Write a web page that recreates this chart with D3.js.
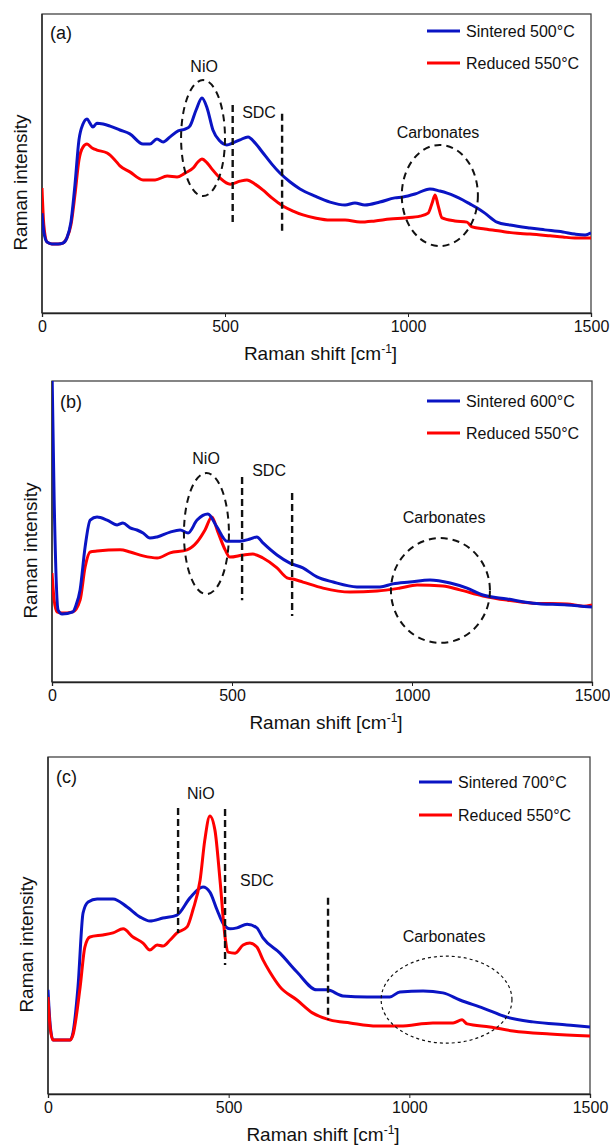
<!DOCTYPE html>
<html>
<head>
<meta charset="utf-8">
<script src="https://cdn.jsdelivr.net/npm/d3@7"></script>
<style>
  body { margin: 0; background: #fff; }
  svg { display: block; font-family: "Liberation Sans", Arial, sans-serif; }
</style>
</head>
<body>
<svg id="chart" width="610" height="1148"></svg>
<script>
// Raman shift (cm-1) vs intensity (a.u., 0-100 of the plotted window)

const sinteredA = [[0,33.4],[5,27.1],[14,23.7],[27,23.1],[44,23.1],[57,23.4],[68,25.1],[79,30.4],[90,42.8],[101,57.9],[112,63.2],[123,64.9],[131,63.5],[139,62.2],[150,63.5],[167,63.2],[186,62.5],[213,61.2],[240,59.9],[276,56.5],[295,56.5],[314,58.2],[331,57.2],[350,58.9],[372,60.9],[391,61.5],[404,62.5],[421,67.9],[437,71.9],[451,68.6],[467,61.2],[486,57.5],[505,56.2],[522,56.9],[541,57.9],[563,58.9],[582,56.9],[604,53.5],[628,49.8],[650,46.8],[678,43.8],[705,41.5],[746,39.1],[787,37.1],[828,36.1],[855,36.8],[882,36.1],[923,37.1],[964,38.5],[986,38.8],[1019,39.8],[1060,41.5],[1087,40.8],[1107,40.1],[1128,39.1],[1150,37.8],[1169,36.5],[1189,35.1],[1210,33.4],[1243,30.4],[1279,29.4],[1333,28.4],[1374,27.8],[1423,27.1],[1456,26.4],[1484,26.1],[1500,26.8]];
const reducedA = [[0,41.8],[5,29.4],[14,23.7],[27,23.1],[44,23.1],[57,23.4],[68,25.1],[79,29.4],[90,39.5],[101,51.2],[112,55.5],[123,56.5],[137,55.2],[150,54.5],[178,53.5],[199,51.2],[213,49.2],[240,47.2],[276,44.5],[309,44.5],[342,45.8],[369,45.5],[391,46.8],[413,48.5],[426,50.5],[437,51.5],[451,50.2],[464,48.2],[486,45.2],[514,43.1],[541,44.1],[560,44.5],[582,43.1],[604,41.1],[628,38.5],[658,35.8],[686,34.1],[713,32.8],[746,31.8],[787,31.1],[828,31.1],[869,30.4],[910,30.8],[951,31.4],[992,31.8],[1033,32.4],[1055,33.4],[1066,36.8],[1074,39.5],[1082,36.1],[1093,31.8],[1128,30.8],[1161,30.4],[1175,28.8],[1210,28.1],[1251,27.4],[1287,26.8],[1333,26.4],[1388,25.8],[1423,25.4],[1456,25.1],[1500,25.1]];

const sinteredB = [[0,104],[6,60.5],[17,23.9],[28,22.6],[58,23.3],[67,25.6],[78,30.6],[92,44.9],[106,53.8],[125,54.8],[153,53.8],[181,52.2],[197,52.8],[217,51.2],[236,50.5],[253,49.5],[272,47.8],[292,48.2],[328,49.8],[356,50.5],[378,49.5],[403,53.8],[433,55.8],[458,51.5],[486,46.8],[522,46.8],[550,47.5],[569,48.2],[586,46.2],[625,42.2],[661,39.5],[697,37.9],[736,34.9],[781,33.2],[847,31.6],[911,31.6],[947,32.6],[994,33.2],[1050,33.9],[1106,32.9],[1153,31.2],[1197,28.9],[1264,27.6],[1336,26.2],[1431,25.6],[1500,24.9]];
const reducedB = [[0,36.2],[6,27.2],[14,23.3],[28,22.9],[58,23.3],[78,27.2],[92,38.2],[106,43.2],[125,43.5],[189,43.9],[217,43.2],[253,41.9],[292,41.2],[328,42.9],[375,43.9],[403,46.5],[425,50.5],[444,54.8],[461,49.8],[481,43.9],[494,41.5],[531,42.2],[558,42.5],[586,41.2],[625,37.9],[653,34.6],[669,34.2],[697,33.2],[753,31.2],[828,29.9],[903,30.2],[967,31.2],[1014,32.2],[1086,31.9],[1133,30.6],[1197,28.6],[1264,27.2],[1336,26.2],[1431,25.9],[1475,25.2],[1500,25.6]];

const sinteredC = [[0,30.9],[6,20.5],[14,16.0],[61,16.0],[69,18.1],[83,31.8],[97,53.7],[111,57.0],[136,57.9],[180,57.9],[219,55.5],[255,52.5],[282,51.3],[318,52.2],[357,53.1],[393,58.2],[429,61.4],[448,59.9],[468,54.6],[484,50.7],[504,49.0],[523,49.3],[551,50.4],[578,49.3],[595,46.3],[642,41.8],[689,36.2],[744,30.9],[772,30.9],[816,29.1],[883,28.8],[946,28.8],[974,30.3],[1038,30.6],[1093,30.0],[1140,27.9],[1204,25.5],[1270,22.8],[1342,21.4],[1436,20.5],[1500,19.9]];
const reducedC = [[0,28.8],[6,19.6],[14,16.0],[61,16.0],[69,17.5],[89,31.8],[102,43.6],[116,46.6],[152,47.2],[180,47.8],[208,49.0],[235,46.6],[263,44.8],[282,42.7],[302,44.2],[318,43.9],[338,45.7],[357,47.8],[385,49.6],[401,54.6],[421,63.5],[434,75.4],[448,82.5],[462,78.3],[476,63.5],[490,46.6],[498,42.1],[518,41.8],[540,44.2],[559,44.8],[578,43.6],[595,39.8],[614,36.2],[642,31.8],[689,27.9],[733,24.0],[780,22.0],[836,21.1],[910,20.2],[974,20.2],[1065,21.1],[1121,21.1],[1146,22.0],[1160,20.8],[1223,19.9],[1287,18.7],[1389,17.8],[1500,17.2]];

const xTicks = [0, 500, 1000, 1500];
const seriesNamesA = ['Sintered 500°C', 'Reduced 550°C'];
const seriesNamesB = ['Sintered 600°C', 'Reduced 550°C'];
const seriesNamesC = ['Sintered 700°C', 'Reduced 550°C'];

// band markers: [shift, intensity from, intensity to]
const sdcLinesA = [[521,69.6,30.1],[656,66.6,26.8]];
const sdcLinesB = [[528,68.1,27.2],[667,62.8,21.9]];
const sdcLinesC = [[360,84.9,47.8],[490,84.6,38.3],[775,58.2,22.0]];
// ellipses: [centre shift, centre intensity, half width (cm-1), half height]
const ellipsesA = [[440,58.5,60,19.4],[1087,39.3,104,16.9]];
const ellipsesB = [[429,49.3,62.5,20.1],[1079,30.4,137.5,17.4]];
const ellipsesC = [[1103,28.0,181,12.9]];
// labels: [text, shift, intensity]
const labelsA = [['NiO',443,82.3],['SDC',593,66.9],['Carbonates',1082,60.5]];
const labelsB = [['NiO',428,74.1],['SDC',603,70.1],['Carbonates',1089,54.8]];
const labelsC = [['NiO',423,89.3],['SDC',578,63.5],['Carbonates',1096,46.6]];

const colors = ['#0a14c4', '#ff0000'];

const panels = [
  {tag:'(a)', box:{l:42, r:591, t:14, b:313}, series:[sinteredA, reducedA], names:seriesNamesA,
   lines:sdcLinesA, ellipses:ellipsesA, labels:labelsA, legendX:427, legendY:[31,63], thinEllipse:false},
  {tag:'(b)', box:{l:52, r:592, t:381, b:682}, series:[sinteredB, reducedB], names:seriesNamesB,
   lines:sdcLinesB, ellipses:ellipsesB, labels:labelsB, legendX:427, legendY:[401,433], thinEllipse:false},
  {tag:'(c)', box:{l:48, r:590, t:757, b:1094}, series:[sinteredC, reducedC], names:seriesNamesC,
   lines:sdcLinesC, ellipses:ellipsesC, labels:labelsC, legendX:419, legendY:[782,815], thinEllipse:true}
];

const svg = d3.select('#chart');

panels.forEach((p, i) => {
  const b = p.box;
  const x = d3.scaleLinear().domain([0, 1500]).range([b.l, b.r]);
  const y = d3.scaleLinear().domain([0, 100]).range([b.b, b.t]);
  const g = svg.append('g');

  g.append('clipPath').attr('id', 'clip' + i)
    .append('rect').attr('x', b.l).attr('y', b.t).attr('width', b.r - b.l).attr('height', b.b - b.t);

  // frame
  g.append('rect')
    .attr('x', b.l).attr('y', b.t).attr('width', b.r - b.l).attr('height', b.b - b.t)
    .attr('fill', 'none').attr('stroke', '#444').attr('stroke-width', 1.3);

  // x axis
  const xAxis = g.append('g')
    .attr('transform', `translate(0,${b.b})`)
    .call(d3.axisBottom(x).tickValues(xTicks).tickFormat(d3.format('d')).tickSizeOuter(0).tickSize(4).tickPadding(4));
  xAxis.select('.domain').attr('stroke', '#222').attr('stroke-width', 1.3);
  xAxis.selectAll('.tick line').attr('stroke', '#222');
  xAxis.selectAll('text').attr('font-size', 16).attr('fill', '#111')
    .attr('font-family', '"Liberation Sans", Arial, sans-serif');

  // left axis line
  g.append('line').attr('x1', b.l).attr('x2', b.l).attr('y1', b.t).attr('y2', b.b)
    .attr('stroke', '#222').attr('stroke-width', 1.3);

  // axis titles
  const xt = g.append('text')
    .attr('x', (b.l + b.r) / 2 + 4).attr('y', b.b + 47)
    .attr('text-anchor', 'middle').attr('font-size', 19).attr('fill', '#111');
  xt.append('tspan').text('Raman shift [cm');
  xt.append('tspan').attr('font-size', 12).attr('dy', -7).text('-1');
  xt.append('tspan').attr('dy', 7).text(']');

  g.append('text')
    .attr('transform', `translate(${b.l - 22},${(b.t + b.b) / 2 + 19}) rotate(-90)`)
    .attr('text-anchor', 'middle').attr('dominant-baseline', 'central')
    .attr('font-size', 19).attr('fill', '#111').text('Raman intensity');

  // curves
  const line = d3.line().x(d => x(d[0])).y(d => y(d[1])).curve(d3.curveMonotoneX);
  const curves = g.append('g').attr('clip-path', `url(#clip${i})`);
  curves.selectAll('path.series')
    .data(p.series)
    .enter().append('path')
    .attr('class', 'series')
    .attr('d', line)
    .attr('fill', 'none')
    .attr('stroke', (d, k) => colors[k])
    .attr('stroke-width', 3)
    .attr('stroke-linejoin', 'round');
  // draw sintered on top in the first two panels like the source
  if (i < 2) curves.select('path.series').raise();

  // dashed band markers
  g.selectAll('line.band')
    .data(p.lines)
    .enter().append('line')
    .attr('class', 'band')
    .attr('x1', d => x(d[0])).attr('x2', d => x(d[0]))
    .attr('y1', d => y(d[1])).attr('y2', d => y(d[2]))
    .attr('stroke', '#111').attr('stroke-width', 2.4).attr('stroke-dasharray', '7,4');

  // dashed ellipses
  g.selectAll('ellipse.mark')
    .data(p.ellipses)
    .enter().append('ellipse')
    .attr('class', 'mark')
    .attr('cx', d => x(d[0])).attr('cy', d => y(d[1]))
    .attr('rx', d => x(d[0] + d[2]) - x(d[0]))
    .attr('ry', d => y(d[1] - d[3]) - y(d[1]))
    .attr('fill', 'none').attr('stroke', '#111')
    .attr('stroke-width', p.thinEllipse ? 1.2 : 2)
    .attr('stroke-dasharray', p.thinEllipse ? '3,3' : '7,5');

  // annotation labels
  g.selectAll('text.lab')
    .data(p.labels)
    .enter().append('text')
    .attr('class', 'lab')
    .attr('x', d => x(d[1])).attr('y', d => y(d[2]))
    .attr('text-anchor', 'middle').attr('dominant-baseline', 'central')
    .attr('font-size', 16).attr('fill', '#111')
    .text(d => d[0]);

  // panel tag
  g.append('text')
    .attr('x', b.l + 8).attr('y', i === 0 ? 33 : (i === 1 ? 402 : 777))
    .attr('dominant-baseline', 'central').attr('font-size', 18).attr('fill', '#111')
    .text(p.tag);

  // legend
  p.names.forEach((name, k) => {
    const ly = p.legendY[k];
    g.append('line')
      .attr('x1', p.legendX).attr('x2', p.legendX + 33)
      .attr('y1', ly).attr('y2', ly)
      .attr('stroke', colors[k]).attr('stroke-width', 3.2);
    g.append('text')
      .attr('x', p.legendX + 39).attr('y', ly)
      .attr('dominant-baseline', 'central').attr('font-size', 16).attr('fill', '#111')
      .text(name);
  });
});
</script>
</body>
</html>
